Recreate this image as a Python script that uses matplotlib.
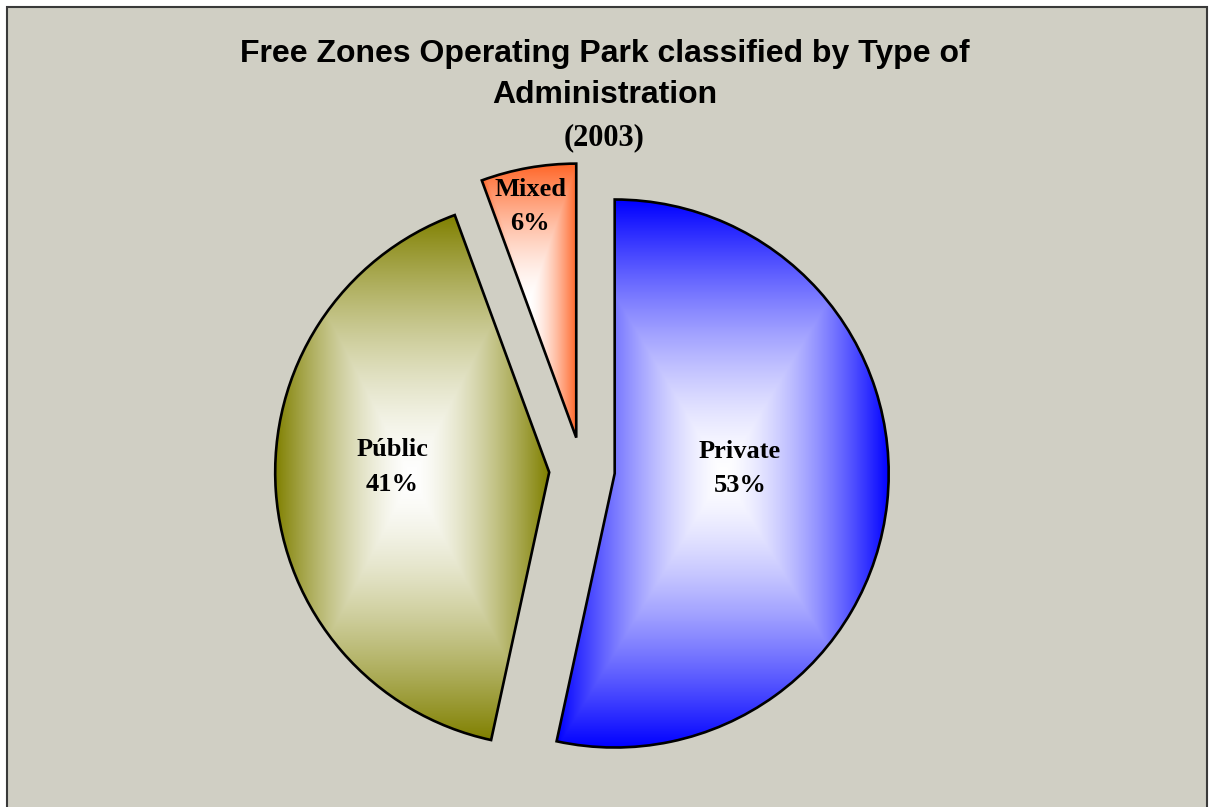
import matplotlib
matplotlib.use("Agg")
import matplotlib.pyplot as plt
from matplotlib.patches import Rectangle
import numpy as np

# data
labels = ["Private", "Públic", "Mixed"]
values = [53.4, 41.0, 5.6]
pct_text = ["53%", "41%", "6%"]
colors = [(0, 0, 255), (128, 128, 0), (255, 102, 40)]

bg = "#D0CFC4"
W, H = 1209, 807
R = 274.0            # pie radius in pixels
cx, cy = 582, 470    # pie centre in pixels (from top-left)

fig = plt.figure(figsize=(W / 100, H / 100), dpi=100, facecolor="white")
ax = fig.add_axes([0, 0, 1, 1])

wedges, _ = ax.pie(values, explode=[0.12] * 3, startangle=90, counterclock=False,
                   radius=1,
                   wedgeprops=dict(facecolor="none", edgecolor="black", linewidth=1.9))

# rectangular "from centre" gradient fill, white in the middle
for w, c in zip(wedges, colors):
    ext = w.get_path().get_extents()
    u = np.linspace(-1, 1, 300)
    v = np.linspace(-1, 1, 500)
    U, V = np.meshgrid(u, v)
    m = np.maximum(np.abs(U), np.abs(V))
    t = m ** 1.5
    col = np.array(c) / 255.0
    img = (1 - t)[..., None] * np.ones(3) + t[..., None] * col
    im = ax.imshow(img, extent=(ext.x0, ext.x1, ext.y0, ext.y1), origin="lower",
                   interpolation="bilinear", zorder=1)
    im.set_clip_path(w)
    w.set_zorder(2)

# labels inside the slices
label_dist = [0.457, 0.573, 0.86]
label_ang = [2.3, 178.2, 101.3]
for w, lab, p, d, a in zip(wedges, labels, pct_text, label_dist, label_ang):
    x0, y0 = w.center
    x = x0 + d * np.cos(np.radians(a))
    y = y0 + d * np.sin(np.radians(a))
    ax.text(x, y, lab + "\n" + p, ha="center", va="center", fontsize=19,
            fontweight="bold", family="Liberation Serif", linespacing=1.65, zorder=3)

ax.set_xlim(-cx / R, (W - cx) / R)
ax.set_ylim(-(H - cy) / R, cy / R)
ax.set_aspect("equal")
ax.set_axis_off()

# chart area with border (bottom edge lies below the picture)
fig.add_artist(Rectangle((7 / W, -0.02), 1200 / W, (H - 7) / H + 0.02,
                         transform=fig.transFigure, facecolor=bg,
                         edgecolor="#3a3a3a", linewidth=1.5, zorder=-1))

fig.text(0.5, 1 - 62 / H, "Free Zones Operating Park classified by Type of",
         ha="center", va="baseline", fontsize=23, fontweight="bold",
         family="Liberation Sans")
fig.text(0.5, 1 - 103 / H, "Administration",
         ha="center", va="baseline", fontsize=23, fontweight="bold",
         family="Liberation Sans")
fig.text(0.5, 1 - 145 / H, "(2003)",
         ha="center", va="baseline", fontsize=22, fontweight="bold",
         family="Liberation Serif")

fig.savefig("out.png", dpi=100, facecolor=fig.get_facecolor())
